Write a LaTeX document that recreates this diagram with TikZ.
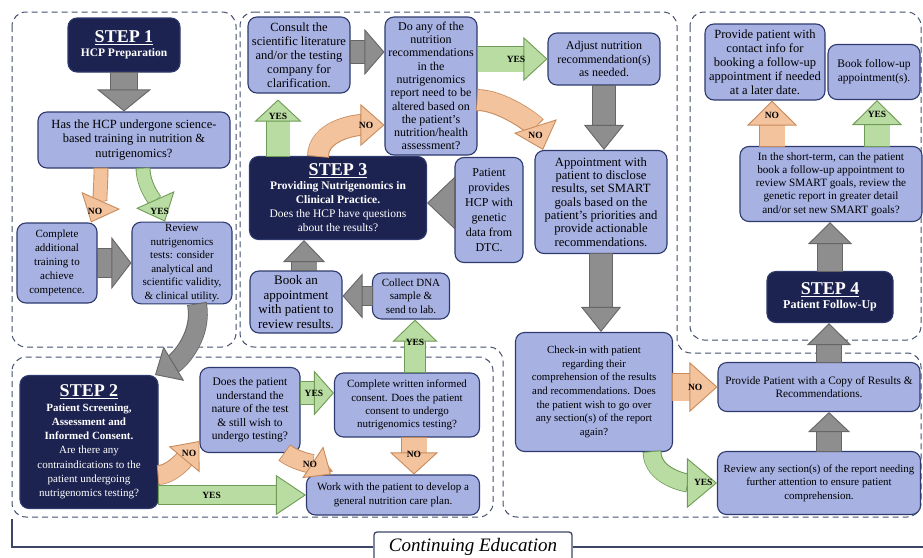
\documentclass[tikz,border=0pt]{standalone}
\usepackage{fontspec}
\setmainfont{Liberation Serif}
\usetikzlibrary{arrows.meta}

\definecolor{boxfill}{HTML}{A7B1E2}
\definecolor{boxline}{HTML}{2E3A6E}
\definecolor{stepfill}{HTML}{1D2350}
\definecolor{grayfill}{HTML}{8E8E8E}
\definecolor{grayline}{HTML}{666666}
\definecolor{greenfill}{HTML}{B9DCA2}
\definecolor{greenline}{HTML}{6E9B55}
\definecolor{orangefill}{HTML}{F3C39E}
\definecolor{orangeline}{HTML}{C88B5C}
\definecolor{dashline}{HTML}{44506E}
\definecolor{bracketline}{HTML}{3C4666}

\newcommand{\bodyfont}{\fontsize{11}{13.4}\selectfont}
\newcommand{\setfs}[2]{\fontsize{#1}{#2}\selectfont}
\newcommand{\steptitle}[1]{{\fontsize{18}{21}\selectfont\bfseries\underline{#1}}}

\tikzset{
  box/.style={draw=boxline, fill=boxfill, line width=1.1pt, rounded corners=9pt,
    align=center, font=\bodyfont, inner sep=2pt},
  stepbox/.style={draw=boxline, fill=stepfill, text=white, line width=1.1pt,
    rounded corners=9pt, align=center, font=\setfs{11.5}{14}, inner sep=2pt},
  boxsize/.style 2 args={minimum width=#1, minimum height=#2},
  region/.style={draw=dashline, line width=1pt, dash pattern=on 6pt off 4pt,
    rounded corners=14pt},
  flow/.style n args={5}{line width=#1, draw=#4,
    -{Triangle[width=#2, length=#3, fill=#4, color=#5, line width=0.9pt]},
    preaction={draw=#5, line width=#1+1.8pt, arrows=-, shorten >=#3-1pt,
      shorten <=-0.9pt}},
  grayflow/.style n args={3}{flow={#1}{#2}{#3}{grayfill}{grayline}},
  greenflow/.style n args={3}{flow={#1}{#2}{#3}{greenfill}{greenline}},
  orangeflow/.style n args={3}{flow={#1}{#2}{#3}{orangefill}{orangeline}},
  lbl/.style={font=\setfs{9.5}{10}\bfseries, inner sep=0pt, text=black},
  bracket/.style={draw=bracketline, line width=1.4pt},
}

\begin{document}
\begin{tikzpicture}[x=1pt, y=-1pt]
\useasboundingbox (0,0) rectangle (923,557);

% dashed regions
\draw[region] (12,12) rectangle (236,347);
\draw[region] (240,12) -- (677,12) -- (677,353) -- (921,353) -- (921,517)
  -- (503,517) -- (503,347) -- (240,347) -- cycle;
\draw[region] (690,12) rectangle (921,340);
\draw[region] (12,357) rectangle (493,517);

% step 1
\node[stepbox, boxsize={112pt}{54pt}] (step1) at (124,45) {\steptitle{STEP 1}\\\textbf{HCP Preparation}};
\node[box, boxsize={192pt}{56pt}, font=\setfs{12.5}{14.2}] (q1) at (134,140) {Has the HCP undergone science-\\based training in nutrition \&\\nutrigenomics?};
\node[box, boxsize={80pt}{80pt}, font=\setfs{11}{14}] (complete) at (57,263) {Complete\\additional\\training to\\achieve\\competence.};
\node[box, boxsize={100pt}{80pt}, font=\setfs{11}{13.6}] (review) at (182,263) {Review\\nutrigenomics\\tests: consider\\analytical and\\scientific validity,\\\& clinical utility.};

% step 3
\node[box, boxsize={102pt}{76pt}, font=\setfs{12.5}{14}] (consult) at (299,55) {Consult the\\scientific literature\\and/or the testing\\company for\\clarification.};
\node[box, boxsize={92pt}{138pt}, font=\setfs{12}{13.3}] (doany) at (431,86) {Do any of the\\nutrition\\recommendations\\in the\\nutrigenomics\\report need to be\\altered based on\\the patient's\\nutrition/health\\assessment?};
\node[stepbox, boxsize={177pt}{83pt}] (step3) at (338,198) {\steptitle{STEP 3}\\\textbf{Providing Nutrigenomics in}\\\textbf{Clinical Practice.}\\Does the HCP have questions\\about the results?};
\node[box, boxsize={68pt}{105pt}, font=\setfs{12}{15}] (patient) at (489,210) {Patient\\provides\\HCP with\\genetic\\data from\\DTC.};
\node[box, boxsize={92pt}{62pt}, font=\setfs{13}{14.5}] (book) at (296,302) {Book an\\appointment\\with patient to\\review results.};
\node[box, boxsize={77pt}{46pt}] (collect) at (411,296) {Collect DNA\\sample \&\\send to lab.};
\node[box, boxsize={112pt}{52pt}, font=\setfs{12}{13.5}] (adjust) at (604,59) {Adjust nutrition\\recommendation(s)\\as needed.};
\node[box, boxsize={132pt}{103pt}, font=\setfs{12.6}{13.3}] (appoint) at (601,202) {Appointment with\\patient to disclose\\results, set SMART\\goals based on the\\patient's priorities and\\provide actionable\\recommendations.};
\node[box, boxsize={157pt}{119pt}, font=\setfs{10.8}{13.7}] (checkin) at (594,392) {Check-in with patient\\regarding their\\comprehension of the results\\and recommendations. Does\\the patient wish to go over\\any section(s) of the report\\again?};
\node[box, boxsize={202pt}{49pt}, font=\setfs{11.3}{13.6}] (copy) at (819,387) {Provide Patient with a Copy of Results \&\\Recommendations.};
\node[box, boxsize={203pt}{63pt}, font=\setfs{10.9}{13.6}] (reviewany) at (819,483) {Review any section(s) of the report needing\\further attention to ensure patient\\comprehension.};

% step 4
\node[box, boxsize={120pt}{76pt}, font=\setfs{12.5}{14}] (info) at (765,62) {Provide patient with\\contact info for\\booking a follow-up\\appointment if needed\\at a later date.};
\node[box, boxsize={92pt}{55pt}, font=\setfs{11.5}{14}] (bookfu) at (874,72) {Book follow-up\\appointment(s).};
\node[box, boxsize={182pt}{75pt}, font=\setfs{11.2}{13.3}] (short) at (831,184) {In the short-term, can the patient\\book a follow-up appointment to\\review SMART goals, review the\\genetic report in greater detail\\and/or set new SMART goals?};
\node[stepbox, boxsize={126pt}{51pt}, font=\setfs{12}{14}] (step4) at (830,297) {\steptitle{STEP 4}\\\textbf{Patient Follow-Up}};

% step 2
\node[stepbox, boxsize={138pt}{133pt}, font=\setfs{11}{14.3}] (step2) at (89,442) {\steptitle{STEP 2}\\\textbf{Patient Screening,}\\\textbf{Assessment and}\\\textbf{Informed Consent.}\\Are there any\\contraindications to the\\patient undergoing\\nutrigenomics testing?};
\node[box, boxsize={100pt}{85pt}, font=\setfs{11.5}{13.6}] (understand) at (250,410) {Does the patient\\understand the\\nature of the test\\\& still wish to\\undergo testing?};
\node[box, boxsize={145pt}{64pt}, font=\setfs{11}{13.3}] (written) at (407,405) {Complete written informed\\consent. Does the patient\\consent to undergo\\nutrigenomics testing?};
\node[box, boxsize={173pt}{40pt}] (work) at (393,495) {Work with the patient to develop a\\general nutrition care plan.};

% continuing education
\node[draw=bracketline, fill=white, line width=1.3pt, rounded corners=3pt,
  minimum width=198pt, minimum height=30pt, font=\setfs{19}{22}\itshape] (cont) at (473,547) {Continuing Education};
\coordinate (contend) at (923,547);
\draw[bracket] (12,519) |- (cont.west);
\draw[bracket] (cont.east) -- (contend);

% arrows, step 1
\draw[grayflow={26pt}{54pt}{22pt}] (step1.south) -- (step1.south |- q1.north);
\draw[grayflow={28pt}{52pt}{20pt}] (complete.east) -- (review.west);
\draw[orangeflow={13pt}{42pt}{24pt}] ([xshift=-33pt]q1.south) .. controls +(0,18) and +(8,-18) .. ([xshift=34pt]complete.north) node[lbl, pos=0.8] {NO};
\draw[greenflow={13pt}{42pt}{24pt}] ([xshift=9pt]q1.south) .. controls +(0,18) and +(-8,-18) .. ([xshift=-17pt]review.north) node[lbl, pos=0.8] {YES};
\draw[grayflow={18pt}{40pt}{22pt}] ([xshift=15pt]review.south) .. controls +(6,30) and +(25,-15) .. ([xshift=66pt]step2.north);

% arrows, step 3
\draw[greenflow={23pt}{47pt}{22pt}] ([xshift=-60pt]step3.north) -- ([xshift=-21pt,yshift=-6pt]consult.south) node[lbl, pos=0.7] {YES};
\draw[orangeflow={20pt}{42pt}{24pt}] ([xshift=-20pt]step3.north) .. controls +(0,-25) and +(-30,0) .. ([yshift=-39pt]doany.west) node[lbl, pos=0.8] {NO};
\draw[grayflow={22pt}{46pt}{20pt}] ([yshift=3pt]consult.east) -- ([yshift=3pt]consult.east -| doany.west);
\draw[greenflow={25pt}{44pt}{24pt}] (doany.east |- adjust.west) -- (adjust.west) node[lbl, pos=0.55] {YES};
\draw[orangeflow={20pt}{45pt}{25pt}] ([yshift=-14pt]doany.east) .. controls +(25,0) and +(-8,-25) .. ([xshift=-58pt]appoint.north) node[lbl, pos=0.8] {NO};
\draw[grayflow={21pt}{53pt}{28pt}] ([yshift=7pt]patient.west) -- ([yshift=7pt]patient.west -| step3.east);
\draw[grayflow={25pt}{42pt}{22pt}] ([xshift=8pt]book.north) -- ([xshift=8pt]book.north |- step3.south);
\draw[grayflow={18pt}{45pt}{20pt}] (collect.west) -- (collect.west -| book.east);
\draw[greenflow={20pt}{45pt}{22pt}] ([xshift=8pt]written.north) -- ([xshift=8pt]written.north |- collect.south) node[lbl, pos=0.57] {YES};
\draw[grayflow={22pt}{40pt}{25pt}] (adjust.south) -- (adjust.south |- appoint.north);
\draw[grayflow={22pt}{40pt}{25pt}] (appoint.south) -- (appoint.south |- checkin.north);
\draw[orangeflow={27pt}{50pt}{28pt}] (checkin.east |- copy.west) -- (copy.west) node[lbl, pos=0.5] {NO};
\draw[grayflow={24pt}{42pt}{20pt}] ([xshift=10pt]reviewany.north) -- ([xshift=10pt]reviewany.north |- copy.south);
\draw[greenflow={17pt}{50pt}{30pt}] ([xshift=58pt]checkin.south) .. controls +(0,25) and +(-30,0) .. (reviewany.west) node[lbl, pos=0.85] {YES};

% arrows, step 4
\draw[grayflow={24pt}{44pt}{22pt}] ([xshift=10pt]copy.north) -- ([xshift=10pt]copy.north |- step4.south);
\draw[grayflow={24pt}{44pt}{22pt}] (step4.north) -- (step4.north |- short.south);
\draw[orangeflow={25pt}{50pt}{25pt}] ([xshift=-59pt]short.north) -- ([xshift=-59pt]short.north |- info.south) node[lbl, pos=0.68] {NO};
\draw[greenflow={25pt}{50pt}{25pt}] ([xshift=46pt]short.north) -- ([xshift=46pt]short.north |- bookfu.south) node[lbl, pos=0.68] {YES};

% arrows, step 2
\draw[orangeflow={18pt}{40pt}{24pt}] ([yshift=-33pt]step2.east) .. controls +(15,0) and +(-10,12) .. ([yshift=-31pt]understand.west) node[lbl, pos=0.7] {NO};
\draw[greenflow={18pt}{40pt}{30pt}] (step2.east |- work.west) -- (work.west) node[lbl, pos=0.36] {YES};
\draw[greenflow={22pt}{45pt}{20pt}] ([yshift=17pt]understand.east) -- ([yshift=17pt]understand.east -| written.west) node[lbl, pos=0.4] {YES};
\draw[orangeflow={18pt}{38pt}{22pt}] ([xshift=35pt]understand.south) .. controls +(10,8) and +(-12,-8) .. ([xshift=-62pt]work.north) node[lbl, pos=0.55] {NO};
\draw[orangeflow={25pt}{48pt}{22pt}] ([xshift=7pt]written.south) -- ([xshift=7pt]written.south |- work.north) node[lbl, pos=0.47] {NO};
\end{tikzpicture}
\end{document}
